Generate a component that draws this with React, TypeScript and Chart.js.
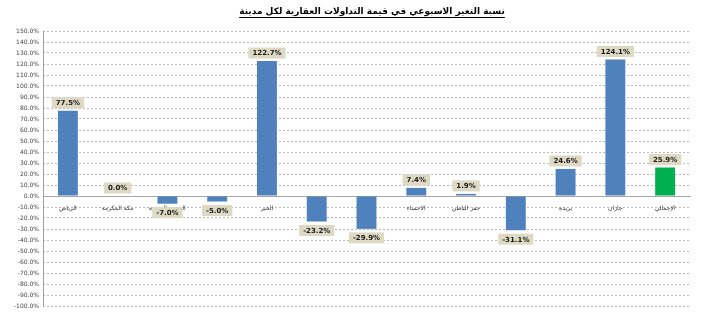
import React, { useEffect, useRef } from "react";
import { Chart, registerables } from "chart.js";

Chart.register(...registerables);

const titleText = "نسبة التغير الاسبوعي في قيمة التداولات العقارية لكل مدينة";
const categories = [
  "الرياض",
  "مكة المكرمة",
  "المدينة المنورة",
  "جدة",
  "الخبر",
  "الدمام",
  "الجبيل",
  "الاحساء",
  "حفر الباطن",
  "ينبع",
  "بريدة",
  "جازان",
  "الإجمالي",
];
const values = [77.5, 0.0, -7.0, -5.0, 122.7, -23.2, -29.9, 7.4, 1.9, -31.1, 24.6, 124.1, 25.9];
const barColors = [
  "#4f81bd", "#4f81bd", "#4f81bd", "#4f81bd", "#4f81bd", "#4f81bd", "#4f81bd",
  "#4f81bd", "#4f81bd", "#4f81bd", "#4f81bd", "#4f81bd", "#00b050",
];
const yMin = -100;
const yMax = 150;
const yStep = 10;

const FONT = "'DejaVu Sans', sans-serif";

const titlePlugin = {
  id: "underlinedTitle",
  afterDraw(chart: any) {
    const ctx = chart.ctx;
    ctx.save();
    ctx.font = `bold 9px ${FONT}`;
    ctx.fillStyle = "#000";
    ctx.textAlign = "center";
    ctx.textBaseline = "alphabetic";
    const cx = 372;
    const y = 14;
    ctx.fillText(titleText, cx, y);
    const w = ctx.measureText(titleText).width;
    ctx.strokeStyle = "#000";
    ctx.lineWidth = 1;
    ctx.beginPath();
    ctx.moveTo(cx - w / 2, y + 3.5);
    ctx.lineTo(cx + w / 2, y + 3.5);
    ctx.stroke();
    ctx.restore();
  },
};

const axisLinePlugin = {
  id: "solidYAxisLine",
  beforeDatasetsDraw(chart: any) {
    const { ctx, chartArea } = chart;
    ctx.save();
    ctx.strokeStyle = "#a0a0a0";
    ctx.lineWidth = 1;
    ctx.beginPath();
    ctx.moveTo(Math.round(chartArea.left) + 0.5, chartArea.top);
    ctx.lineTo(Math.round(chartArea.left) + 0.5, chartArea.bottom);
    ctx.stroke();
    ctx.restore();
  },
};

const labelPlugin = {
  id: "valueLabels",
  afterDatasetsDraw(chart: any) {
    const ctx = chart.ctx;
    const meta = chart.getDatasetMeta(0);
    ctx.save();
    ctx.font = `bold 7px ${FONT}`;
    ctx.textAlign = "center";
    ctx.textBaseline = "middle";
    meta.data.forEach((bar: any, i: number) => {
      const v = values[i];
      const text = v.toFixed(1) + "%";
      const w = ctx.measureText(text).width + 8;
      const h = 11;
      const cy = v >= 0 ? bar.y - 8 : bar.y + 9;
      ctx.fillStyle = "#ddd9c3";
      ctx.fillRect(bar.x - w / 2, cy - h / 2, w, h);
      ctx.fillStyle = "#1a1a1a";
      ctx.fillText(text, bar.x, cy + 0.5);
    });
    ctx.restore();
  },
};

export default function App() {
  const ref = useRef<HTMLCanvasElement | null>(null);
  useEffect(() => {
    if (!ref.current) return;
    const chart = new Chart(ref.current, {
      type: "bar",
      data: {
        labels: categories,
        datasets: [
          {
            data: values,
            backgroundColor: barColors,
            barPercentage: 0.4,
            categoryPercentage: 1,
          },
        ],
      },
      options: {
        animation: false,
        responsive: false,
        maintainAspectRatio: false,
        layout: { padding: { top: 31, bottom: 20, right: 13, left: 0 } },
        plugins: {
          legend: { display: false },
          tooltip: { enabled: false },
          title: { display: false },
        },
        scales: {
          x: {
            type: "category",
            position: { y: 0 } as any,
            grid: { display: false },
            border: { display: true, color: "#a6a6a6", width: 1 },
            ticks: {
              autoSkip: false,
              maxRotation: 0,
              minRotation: 0,
              padding: 1,
              font: { size: 6, family: FONT },
              color: "#333",
            },
          },
          y: {
            min: yMin,
            max: yMax,
            afterFit(scale: any) {
              scale.width = 43;
            },
            ticks: {
              stepSize: yStep,
              autoSkip: false,
              font: { size: 6, family: FONT },
              color: "#444",
              padding: 4,
              callback: (v: any) => Number(v).toFixed(1) + "%",
            },
            grid: {
              color: "#b8b8b8",
              lineWidth: 1,
              drawTicks: false,
            },
            border: { display: false, dash: [2, 2] },
          },
        },
      },
      plugins: [titlePlugin, axisLinePlugin, labelPlugin],
    });
    return () => chart.destroy();
  }, []);
  return (
    <div style={{ position: "absolute", left: 0, top: 0, width: 703, height: 326, background: "#fff" }}>
      <canvas ref={ref} width={703} height={326} style={{ width: 703, height: 326 }} />
    </div>
  );
}
